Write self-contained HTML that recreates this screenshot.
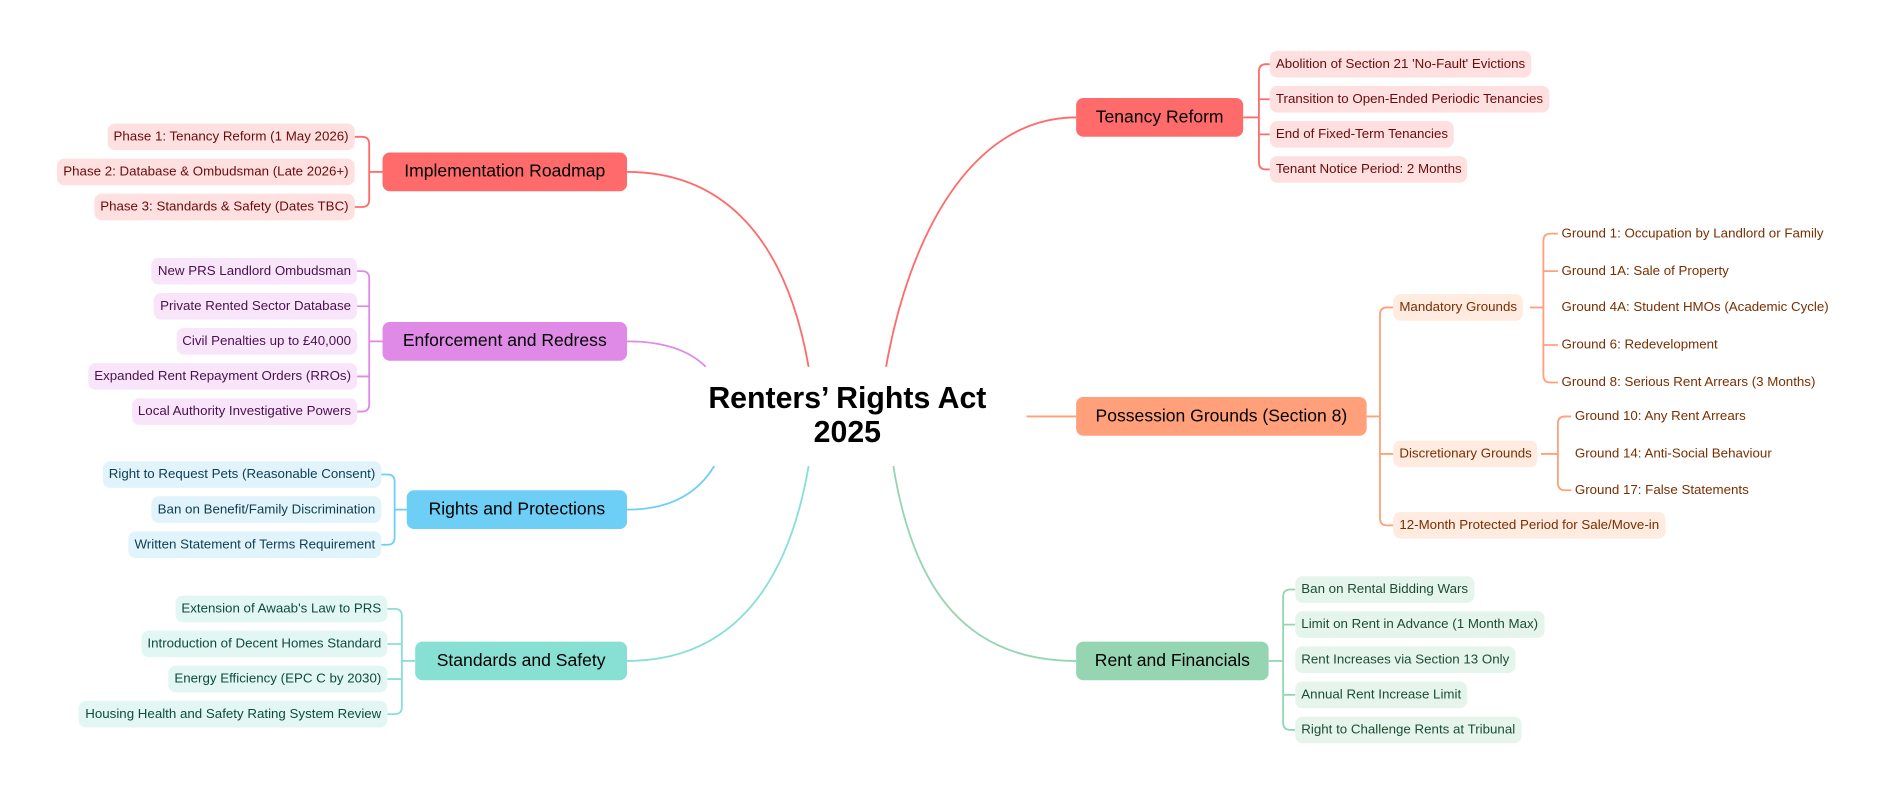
<!DOCTYPE html>
<html><head><meta charset="utf-8"><style>
html,body{margin:0;padding:0;background:#fff;width:1898px;height:795px;overflow:hidden}
#w{position:absolute;left:0;top:0;width:1568px;height:657px;transform:scale(1.2105);transform-origin:0 0;font-family:"Liberation Sans",sans-serif}
.b{position:absolute;height:32px;line-height:33px;border-radius:6px;font-size:14.5px;color:#000;text-align:center;white-space:nowrap}
.l{position:absolute;height:22px;line-height:23px;border-radius:6px;font-size:11px;padding:0 5px;white-space:nowrap}
.t{position:absolute;font-size:11px;white-space:nowrap;line-height:15px}
svg{position:absolute;left:0;top:0}
.r{background:#ffe0e0;color:#6b0a0a}
.o{background:#ffebe0;color:#7a2e00}
.g{background:#e6f5ec;color:#1b4d32}
.p{background:#f8e5f9;color:#4a1050}
.c{background:#e1f4fc;color:#0d3d52}
.q{background:#e2f7f3;color:#0e4a40}
</style></head><body><div id="w">
<svg width="1568" height="657" fill="none" stroke-width="1.5">
<path d="M668,303 C650,200 600,142 518,142" stroke="#ff6b6b"/>
<path d="M583,303 C570,290 550,282 518,282" stroke="#e08ae8"/>
<path d="M590,385 C575,410 550,421 518,421" stroke="#6ecff6"/>
<path d="M668,385 C650,490 600,546 518,546" stroke="#88e0d5"/>
<path d="M732,303 C750,200 800,97 889,97" stroke="#ff6b6b"/>
<path d="M848,344 L889,344" stroke="#ffa07a"/>
<path d="M738,385 C755,490 800,546 889,546" stroke="#95d5b2"/>
<g stroke="#ff6b6b"><path d="M1027,97H1040"/><path d="M1049,53H1046Q1040,53 1040,59V134Q1040,140 1046,140H1049M1040,82H1049M1040,111H1049"/></g>
<g stroke="#ffa07a"><path d="M1129,344H1140"/><path d="M1151,254H1146Q1140,254 1140,260V428Q1140,434 1146,434H1151M1140,375H1151"/>
<path d="M1264,254H1275"/><path d="M1287,193H1281Q1275,193 1275,199V310Q1275,316 1281,316H1287M1275,224H1287M1275,285H1287"/>
<path d="M1273,375H1287"/><path d="M1298,344H1293Q1287,344 1287,350V399Q1287,405 1293,405H1298"/></g>
<g stroke="#95d5b2"><path d="M1048,546H1060"/><path d="M1070,487H1066Q1060,487 1060,493V597Q1060,603 1066,603H1070M1060,516H1070M1060,574H1070"/></g>
<g stroke="#ff6b6b"><path d="M316,142H305"/><path d="M293,113H299Q305,113 305,119V165Q305,171 299,171H293"/></g>
<g stroke="#e08ae8"><path d="M316,282H305"/><path d="M295,224H299Q305,224 305,230V334Q305,340 299,340H295M305,253H295M305,311H295"/></g>
<g stroke="#6ecff6"><path d="M336,421H326"/><path d="M315,392H320Q326,392 326,398V444Q326,450 320,450H315"/></g>
<g stroke="#88e0d5"><path d="M343,546H332"/><path d="M320,503H326Q332,503 332,509V584Q332,590 326,590H320M332,532H320M332,561H320"/></g>
</svg>
<div style="position:absolute;left:550px;top:315px;width:300px;text-align:center;font-weight:bold;font-size:25px;line-height:28px">Renters’ Rights Act<br>2025</div>
<div class="b" style="left:889px;top:81px;width:138px;background:#ff6b6b">Tenancy Reform</div>
<div class="b" style="left:889px;top:328px;width:240px;background:#ffa07a">Possession Grounds (Section 8)</div>
<div class="b" style="left:889px;top:530px;width:159px;background:#95d5b2">Rent and Financials</div>
<div class="b" style="left:316px;top:126px;width:202px;background:#ff6b6b">Implementation Roadmap</div>
<div class="b" style="left:316px;top:266px;width:202px;background:#e08ae8">Enforcement and Redress</div>
<div class="b" style="left:336px;top:405px;width:182px;background:#6ecff6">Rights and Protections</div>
<div class="b" style="left:343px;top:530px;width:175px;background:#88e0d5">Standards and Safety</div>

<div class="l r" style="left:1049px;top:42px">Abolition of Section 21 'No-Fault' Evictions</div>
<div class="l r" style="left:1049px;top:71px">Transition to Open-Ended Periodic Tenancies</div>
<div class="l r" style="left:1049px;top:100px">End of Fixed-Term Tenancies</div>
<div class="l r" style="left:1049px;top:129px">Tenant Notice Period: 2 Months</div>

<div class="l o" style="left:1151px;top:243px">Mandatory Grounds</div>
<div class="l o" style="left:1151px;top:364px">Discretionary Grounds</div>
<div class="l o" style="left:1151px;top:423px">12-Month Protected Period for Sale/Move-in</div>
<div class="t" style="left:1290px;top:186px;color:#7a2e00">Ground 1: Occupation by Landlord or Family</div>
<div class="t" style="left:1290px;top:217px;color:#7a2e00">Ground 1A: Sale of Property</div>
<div class="t" style="left:1290px;top:247px;color:#7a2e00">Ground 4A: Student HMOs (Academic Cycle)</div>
<div class="t" style="left:1290px;top:278px;color:#7a2e00">Ground 6: Redevelopment</div>
<div class="t" style="left:1290px;top:309px;color:#7a2e00">Ground 8: Serious Rent Arrears (3 Months)</div>
<div class="t" style="left:1301px;top:337px;color:#7a2e00">Ground 10: Any Rent Arrears</div>
<div class="t" style="left:1301px;top:368px;color:#7a2e00">Ground 14: Anti-Social Behaviour</div>
<div class="t" style="left:1301px;top:398px;color:#7a2e00">Ground 17: False Statements</div>

<div class="l g" style="left:1070px;top:476px">Ban on Rental Bidding Wars</div>
<div class="l g" style="left:1070px;top:505px">Limit on Rent in Advance (1 Month Max)</div>
<div class="l g" style="left:1070px;top:534px">Rent Increases via Section 13 Only</div>
<div class="l g" style="left:1070px;top:563px">Annual Rent Increase Limit</div>
<div class="l g" style="left:1070px;top:592px">Right to Challenge Rents at Tribunal</div>

<div class="l r" style="right:1275px;top:102px">Phase 1: Tenancy Reform (1 May 2026)</div>
<div class="l r" style="right:1275px;top:131px">Phase 2: Database &amp; Ombudsman (Late 2026+)</div>
<div class="l r" style="right:1275px;top:160px">Phase 3: Standards &amp; Safety (Dates TBC)</div>

<div class="l p" style="right:1273px;top:213px">New PRS Landlord Ombudsman</div>
<div class="l p" style="right:1273px;top:242px">Private Rented Sector Database</div>
<div class="l p" style="right:1273px;top:271px">Civil Penalties up to £40,000</div>
<div class="l p" style="right:1273px;top:300px">Expanded Rent Repayment Orders (RROs)</div>
<div class="l p" style="right:1273px;top:329px">Local Authority Investigative Powers</div>

<div class="l c" style="right:1253px;top:381px">Right to Request Pets (Reasonable Consent)</div>
<div class="l c" style="right:1253px;top:410px">Ban on Benefit/Family Discrimination</div>
<div class="l c" style="right:1253px;top:439px">Written Statement of Terms Requirement</div>

<div class="l q" style="right:1248px;top:492px">Extension of Awaab's Law to PRS</div>
<div class="l q" style="right:1248px;top:521px">Introduction of Decent Homes Standard</div>
<div class="l q" style="right:1248px;top:550px">Energy Efficiency (EPC C by 2030)</div>
<div class="l q" style="right:1248px;top:579px">Housing Health and Safety Rating System Review</div>
</div></body></html>
